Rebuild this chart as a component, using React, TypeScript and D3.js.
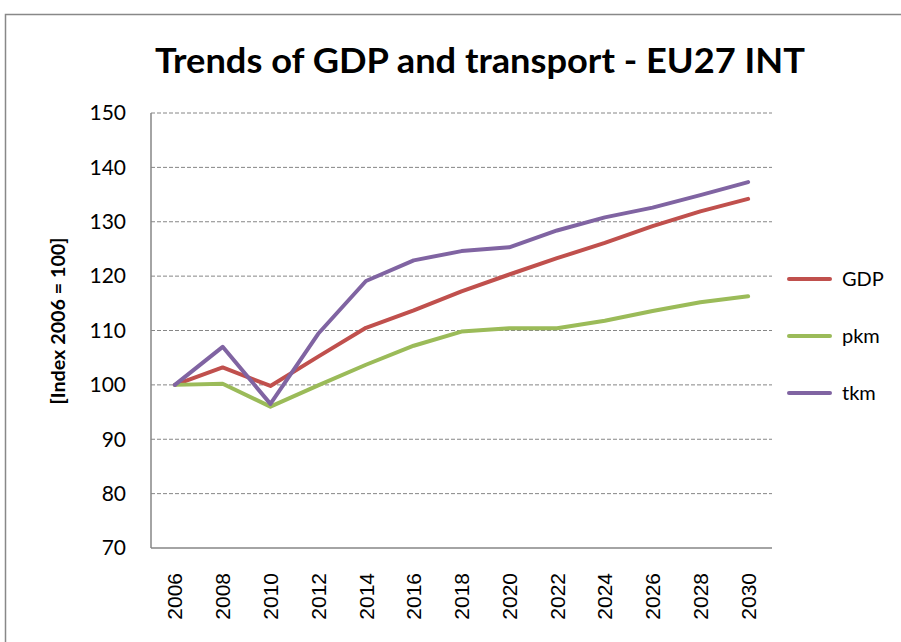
import React from "react";
import * as d3 from "d3";

const years = ["2006","2008","2010","2012","2014","2016","2018","2020","2022","2024","2026","2028","2030"];
const gdp = [100, 103.2, 99.8, 105.2, 110.5, 113.7, 117.2, 120.3, 123.3, 126.1, 129.2, 131.9, 134.2];
const pkm = [100, 100.2, 96.0, 99.9, 103.7, 107.2, 109.8, 110.4, 110.4, 111.8, 113.6, 115.2, 116.3];
const tkm = [100, 107.0, 96.5, 109.4, 119.1, 122.9, 124.6, 125.3, 128.4, 130.8, 132.6, 134.9, 137.3];
const yTicks = [70, 80, 90, 100, 110, 120, 130, 140, 150];
const seriesNames = ["GDP", "pkm", "tkm"];
const seriesColors = ["#C0504D", "#9BBB59", "#8064A2"];
const title = "Trends of GDP and transport - EU27 INT";
const yTitle = "[Index 2006 = 100]";

export default function App() {
  const W = 901, H = 642;
  const left = 151, right = 772, top = 113, bottom = 548;
  const x = d3.scaleBand<string>().domain(years).range([left, right]);
  const y = d3.scaleLinear().domain([70, 150]).range([bottom, top]);
  const cx = (yr: string) => (x(yr) as number) + x.bandwidth() / 2;
  const line = d3.line<number>().x((_, i) => cx(years[i])).y((v) => y(v));
  const data = [gdp, pkm, tkm];
  const font = "Lato, 'Open Sans', sans-serif";
  const xfont = "'Liberation Sans', Arial, sans-serif";
  return (
    <svg width={W} height={H} style={{ position: "absolute", left: 0, top: 0 }}>
      <rect x={0} y={0} width={W} height={H} fill="#fff" />
      <rect x={5.5} y={14.5} width={W} height={H} fill="none" stroke="#888" strokeWidth={1.5} />
      <text x={155} y={73} textAnchor="start" textLength={650} lengthAdjust="spacingAndGlyphs" fontFamily={font} fontWeight="bold" fontSize={35}>{title}</text>
      {yTicks.filter((t) => t !== 70).map((t) => (
        <line key={t} x1={left} x2={right} y1={y(t)} y2={y(t)} stroke="#868686" strokeWidth={1} strokeDasharray="4,2" />
      ))}
      <line x1={left} x2={left} y1={top} y2={bottom} stroke="#868686" strokeWidth={1.5} />
      <line x1={left} x2={right} y1={bottom} y2={bottom} stroke="#868686" strokeWidth={1.5} />
      {yTicks.map((t) => (
        <text key={t} x={126} y={y(t)} dy="0.35em" textAnchor="end" fontFamily={font} fontSize={21}>{t}</text>
      ))}
      {years.map((yr) => (
        <text key={yr} transform={`translate(${cx(yr)},${573}) rotate(-90)`} dy="0.36em" textAnchor="end" fontFamily={xfont} fontSize={21}>{yr}</text>
      ))}
      <text transform={`translate(58,${321}) rotate(-90)`} textAnchor="middle" dy="0.35em" textLength={167} lengthAdjust="spacingAndGlyphs" fontFamily={font} fontWeight="bold" fontSize={19}>{yTitle}</text>
      {data.map((d, i) => (
        <path key={i} d={line(d) as string} fill="none" stroke={seriesColors[i]} strokeWidth={4} strokeLinejoin="round" strokeLinecap="round" />
      ))}
      {seriesNames.map((n, i) => (
        <g key={n}>
          <line x1={789} x2={830} y1={279 + i * 57} y2={279 + i * 57} stroke={seriesColors[i]} strokeWidth={4} strokeLinecap="round" />
          <text x={842} y={279 + i * 57} dy="0.35em" fontFamily={font} fontSize={20}>{n}</text>
        </g>
      ))}
    </svg>
  );
}
